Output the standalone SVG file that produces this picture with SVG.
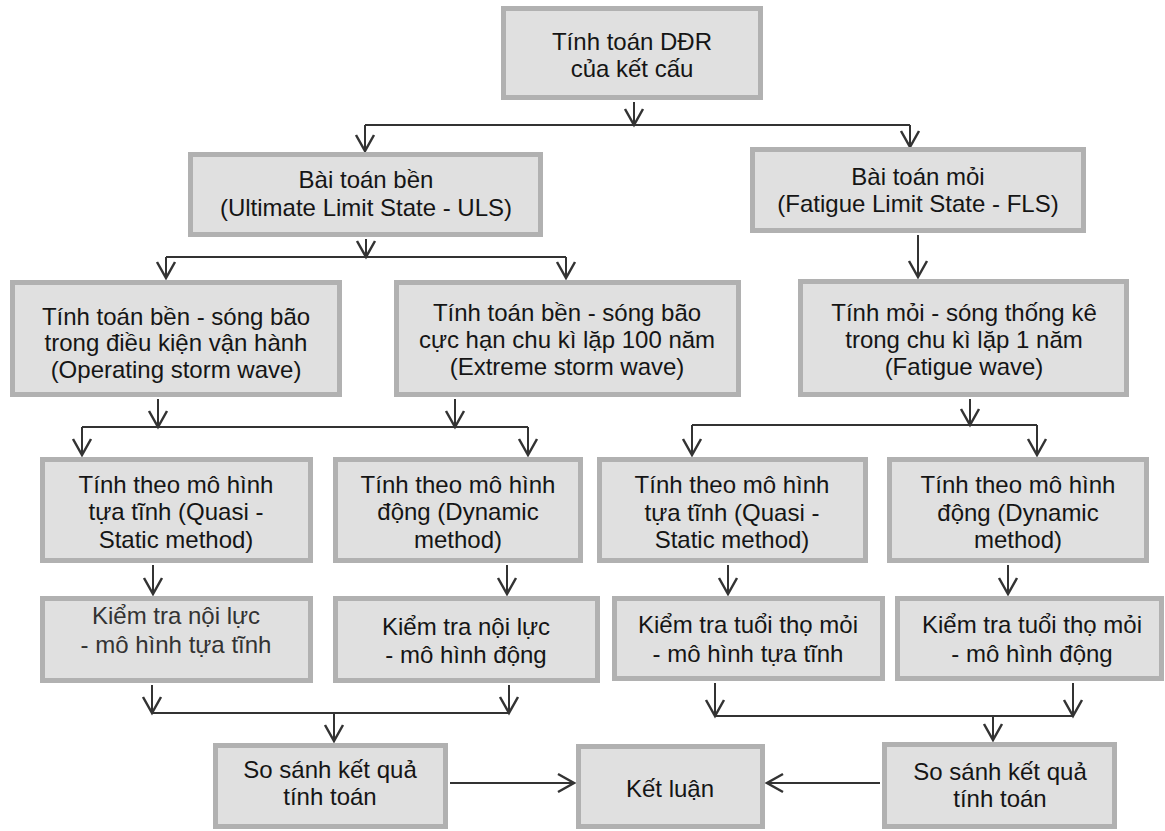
<svg xmlns="http://www.w3.org/2000/svg" width="1165" height="831" viewBox="0 0 1165 831">
<style>
.box{fill:#e0e0e0;stroke:#b1b1b1;stroke-width:5}
.t{font-family:"Liberation Sans",Arial,sans-serif;font-size:24px;fill:#151515;text-anchor:middle}
.c{fill:none;stroke:#333;stroke-width:2}
.a{marker-end:url(#arr)}
</style>
<defs>
<marker id="arr" markerUnits="userSpaceOnUse" viewBox="-20 -12 22 24" markerWidth="22" markerHeight="24" refX="0" refY="0" orient="auto" overflow="visible">
<path d="M-16,-9 L0,0 L-16,9" fill="none" stroke="#333" stroke-width="2.5"/>
</marker>
</defs>
<rect width="1165" height="831" fill="#fff"/>
<g id="connectors">
<path class="c a" d="M634,102 V125"/>
<path class="c" d="M365,125 H910"/>
<path class="c a" d="M365,125 V151"/>
<path class="c a" d="M910,125 V147"/>
<path class="c a" d="M366,239 V257"/>
<path class="c" d="M166,257 H566"/>
<path class="c a" d="M166,257 V278"/>
<path class="c a" d="M566,257 V278"/>
<path class="c a" d="M918,235 V277"/>
<path class="c a" d="M158,399 V427"/>
<path class="c a" d="M455,399 V427"/>
<path class="c" d="M82,427 H528"/>
<path class="c a" d="M82,427 V455"/>
<path class="c a" d="M528,427 V455"/>
<path class="c a" d="M970,399 V425"/>
<path class="c" d="M692,425 H1037"/>
<path class="c a" d="M692,425 V455"/>
<path class="c a" d="M1037,425 V455"/>
<path class="c a" d="M153,565 V594"/>
<path class="c a" d="M507,565 V594"/>
<path class="c a" d="M728,565 V594"/>
<path class="c a" d="M1008,565 V594"/>
<path class="c a" d="M152,685 V713"/>
<path class="c a" d="M509,685 V713"/>
<path class="c" d="M152,713 H509"/>
<path class="c a" d="M334,713 V741"/>
<path class="c a" d="M715,683 V716"/>
<path class="c a" d="M1073,683 V716"/>
<path class="c" d="M715,716 H1073"/>
<path class="c a" d="M993,716 V740"/>
<path class="c a" d="M450,783 H574"/>
<path class="c a" d="M880,783 H767"/>
</g>
<g id="n1"><rect class="box" x="503.5" y="8.5" width="257" height="89"/><text class="t"><tspan x="632" y="50">Tính toán DĐR</tspan><tspan x="632" y="77">của kết cấu</tspan></text></g>
<g id="n2"><rect class="box" x="190.5" y="154.5" width="350" height="80"/><text class="t"><tspan x="366" y="188">Bài toán bền</tspan><tspan x="366" y="216">(Ultimate Limit State - ULS)</tspan></text></g>
<g id="n3"><rect class="box" x="752.5" y="149.5" width="331" height="81"/><text class="t"><tspan x="918" y="185">Bài toán mỏi</tspan><tspan x="918" y="212">(Fatigue Limit State - FLS)</tspan></text></g>
<g id="n4"><rect class="box" x="12.5" y="282.5" width="327" height="112"/><text class="t"><tspan x="176" y="325">Tính toán bền - sóng bão</tspan><tspan x="176" y="351">trong điều kiện vận hành</tspan><tspan x="176" y="378">(Operating storm wave)</tspan></text></g>
<g id="n5"><rect class="box" x="396.5" y="282.5" width="342" height="112"/><text class="t"><tspan x="567" y="321">Tính toán bền - sóng bão</tspan><tspan x="567" y="348">cực hạn chu kì lặp 100 năm</tspan><tspan x="567" y="375">(Extreme storm wave)</tspan></text></g>
<g id="n6"><rect class="box" x="800.5" y="281.5" width="326" height="113"/><text class="t"><tspan x="964" y="321">Tính mỏi - sóng thống kê</tspan><tspan x="964" y="348">trong chu kì lặp 1 năm</tspan><tspan x="964" y="375">(Fatigue wave)</tspan></text></g>
<g id="n7"><rect class="box" x="42.5" y="459.5" width="268" height="101"/><text class="t"><tspan x="176" y="493">Tính theo mô hình</tspan><tspan x="176" y="520">tựa tĩnh (Quasi -</tspan><tspan x="176" y="548">Static method)</tspan></text></g>
<g id="n8"><rect class="box" x="335.5" y="459.5" width="245" height="101"/><text class="t"><tspan x="458" y="493">Tính theo mô hình</tspan><tspan x="458" y="520">động (Dynamic</tspan><tspan x="458" y="548">method)</tspan></text></g>
<g id="n9"><rect class="box" x="599.5" y="459.5" width="266" height="101"/><text class="t"><tspan x="732" y="493">Tính theo mô hình</tspan><tspan x="732" y="521">tựa tĩnh (Quasi -</tspan><tspan x="732" y="548">Static method)</tspan></text></g>
<g id="n10"><rect class="box" x="889.5" y="459.5" width="257" height="101"/><text class="t"><tspan x="1018" y="493">Tính theo mô hình</tspan><tspan x="1018" y="521">động (Dynamic</tspan><tspan x="1018" y="548">method)</tspan></text></g>
<g id="n11"><rect class="box" x="42.5" y="598.5" width="268" height="82"/><text class="t" style="fill:#333"><tspan x="176" y="624">Kiểm tra nội lực</tspan><tspan x="176" y="653">- mô hình tựa tĩnh</tspan></text></g>
<g id="n12"><rect class="box" x="335.5" y="598.5" width="262" height="82"/><text class="t"><tspan x="466" y="635">Kiểm tra nội lực</tspan><tspan x="466" y="663">- mô hình động</tspan></text></g>
<g id="n13"><rect class="box" x="614.5" y="598.5" width="268" height="80"/><text class="t"><tspan x="748" y="633">Kiểm tra tuổi thọ mỏi</tspan><tspan x="748" y="662">- mô hình tựa tĩnh</tspan></text></g>
<g id="n14"><rect class="box" x="897.5" y="598.5" width="264" height="80"/><text class="t"><tspan x="1032" y="633">Kiểm tra tuổi thọ mỏi</tspan><tspan x="1032" y="662">- mô hình động</tspan></text></g>
<g id="n15"><rect class="box" x="215.5" y="745.5" width="230" height="81"/><text class="t"><tspan x="330" y="778">So sánh kết quả</tspan><tspan x="330" y="805">tính toán</tspan></text></g>
<g id="n16"><rect class="box" x="578.5" y="746.5" width="184" height="80"/><text class="t"><tspan x="670" y="797">Kết luận</tspan></text></g>
<g id="n17"><rect class="box" x="884.5" y="744.5" width="230" height="82"/><text class="t"><tspan x="1000" y="780">So sánh kết quả</tspan><tspan x="1000" y="807">tính toán</tspan></text></g>
</svg>
